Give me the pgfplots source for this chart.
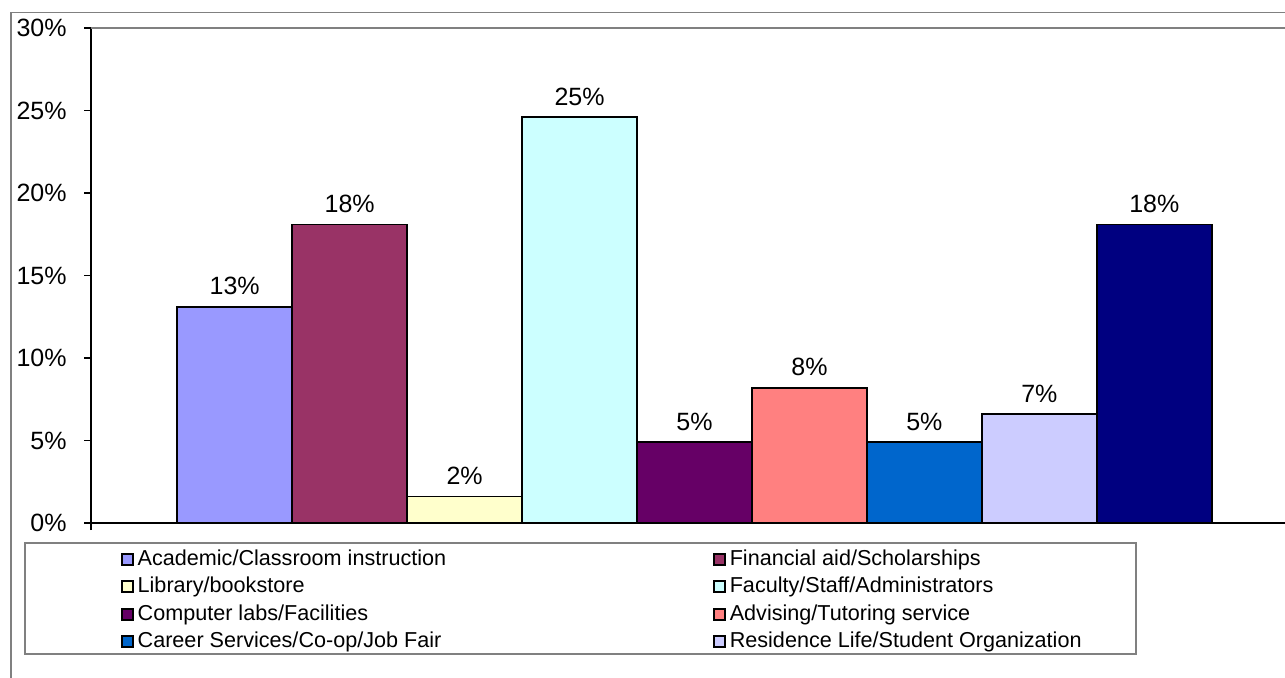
\documentclass[border=0pt]{standalone}
\usepackage{pgfplots}
\pgfplotsset{compat=1.18}
\usepackage{fontspec}
\setmainfont{Liberation Sans}
\definecolor{c1}{HTML}{9999FF}
\definecolor{c2}{HTML}{993366}
\definecolor{c3}{HTML}{FFFFCC}
\definecolor{c4}{HTML}{CCFFFF}
\definecolor{c5}{HTML}{660066}
\definecolor{c6}{HTML}{FF8080}
\definecolor{c7}{HTML}{0066CC}
\definecolor{c8}{HTML}{CCCCFF}
\definecolor{c9}{HTML}{000080}
\definecolor{frame}{HTML}{808080}
\begin{document}
\begin{tikzpicture}
\useasboundingbox (0pt,0pt) rectangle (642.5pt,338.5pt);
\clip (0pt,0pt) rectangle (642.5pt,338.5pt);
\draw[frame, line width=0.8pt] (5.5pt,-5pt) -- (5.5pt,332.3pt) -- (700pt,332.3pt);
\draw[frame, line width=0.8pt] (12.5pt,67pt) rectangle (568pt,11.5pt);
\begin{axis}[
  at={(45.5pt,77pt)}, anchor=south west,
  scale only axis, width=603.5pt, height=247.5pt,
  xmin=-0.25, xmax=10.25, ymin=0, ymax=30,
  clip=false,
  /pgf/number format/assume math mode=true,
  axis x line*=bottom, axis y line*=left,
  axis line style={black, line width=0.8pt, -},
  ytick={0,5,...,30},
  yticklabel={\pgfmathprintnumber{\tick}\%},
  yticklabel style={font=\fontsize{12.5}{15}\selectfont, inner sep=0pt, anchor=east, xshift=-8.5pt},
  xtick={-0.25}, xticklabels={},
  tick align=outside, major tick length=3.5pt,
  tick style={black, line width=0.8pt},
  ybar, bar width=1,
  nodes near coords={\pgfmathprintnumber[fixed,precision=0,assume math mode=true]{\pgfplotspointmeta}\%},
  every node near coord/.append style={font=\fontsize{12.5}{15}\selectfont, inner sep=0pt, anchor=south, yshift=5.5pt, black},
  legend image code/.code={\draw[#1, draw=black, line width=0.8pt] (0pt,-2.75pt) rectangle (5.5pt,2.75pt);},
  legend columns=2,
  legend cell align=left,
  legend style={at={(0.0246,-0.0501)}, anchor=north west, draw=none, fill=none, inner sep=0pt,
    font=\fontsize{10.8}{13}\selectfont, row sep=2.75pt,
    nodes={inner sep=0pt, text height=8.5pt, text depth=2.5pt},
    /tikz/every odd column/.append style={column sep=2pt},
    /tikz/every even column/.append style={column sep=133.5pt}},
]
\addplot[fill=c1, draw=black, line width=0.8pt, bar shift=0pt] coordinates {(1,13.1)};
\addlegendentry{Academic/Classroom instruction}
\addplot[fill=c2, draw=black, line width=0.8pt, bar shift=0pt] coordinates {(2,18.1)};
\addlegendentry{Financial aid/Scholarships}
\addplot[fill=c3, draw=black, line width=0.8pt, bar shift=0pt] coordinates {(3,1.6)};
\addlegendentry{Library/bookstore}
\addplot[fill=c4, draw=black, line width=0.8pt, bar shift=0pt] coordinates {(4,24.6)};
\addlegendentry{Faculty/Staff/Administrators}
\addplot[fill=c5, draw=black, line width=0.8pt, bar shift=0pt] coordinates {(5,4.9)};
\addlegendentry{Computer labs/Facilities}
\addplot[fill=c6, draw=black, line width=0.8pt, bar shift=0pt] coordinates {(6,8.2)};
\addlegendentry{Advising/Tutoring service}
\addplot[fill=c7, draw=black, line width=0.8pt, bar shift=0pt] coordinates {(7,4.9)};
\addlegendentry{Career Services/Co-op/Job Fair}
\addplot[fill=c8, draw=black, line width=0.8pt, bar shift=0pt] coordinates {(8,6.6)};
\addlegendentry{Residence Life/Student Organization}
\addplot[fill=c9, draw=black, line width=0.8pt, bar shift=0pt, forget plot] coordinates {(9,18.1)};
\draw[frame, line width=0.8pt] (rel axis cs:0,1) -- (rel axis cs:1,1);
\end{axis}
\end{tikzpicture}
\end{document}
